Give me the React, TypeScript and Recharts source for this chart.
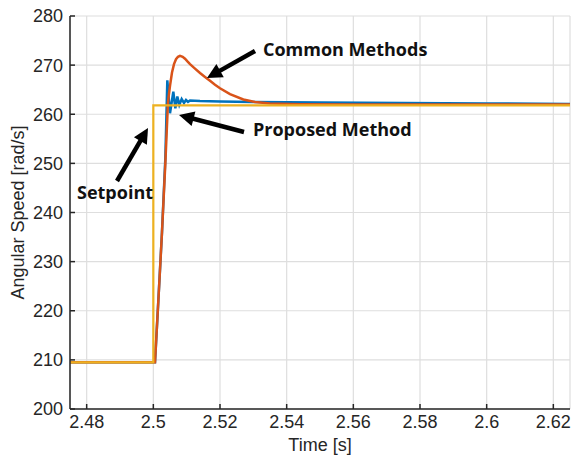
import { LineChart, Line, XAxis, YAxis, CartesianGrid } from 'recharts';

// time axis [s] and angular speed [rad/s]
const setpointTime = [2.475, 2.5, 2.5, 2.625];
const setpointSpeed = [209.5, 209.5, 261.8, 261.8];

const proposedTime = [
    2.475, 2.5005, 2.5015, 2.5026, 2.5036, 2.5042, 2.505, 2.506, 2.5066, 2.5072, 2.5078,
    2.5085, 2.5092, 2.5098, 2.5104, 2.511, 2.514, 2.52, 2.53, 2.55, 2.575, 2.6, 2.625,
];
const proposedSpeed = [
    209.5, 209.5, 222, 236, 251, 266.9, 260.2, 264.6, 261.2, 263.6, 261.9,
    263.1, 262.3, 262.9, 262.5, 262.8, 262.7, 262.6, 262.5, 262.4, 262.3, 262.2, 262.1,
];

const commonTime = [
    2.475, 2.5005, 2.5015, 2.5026, 2.5036, 2.5044, 2.505, 2.5056, 2.5062, 2.5068, 2.5074,
    2.508, 2.5088, 2.5095, 2.5103, 2.511, 2.5125, 2.514, 2.5155, 2.517, 2.5185, 2.52,
    2.523, 2.527, 2.5305, 2.535, 2.544, 2.56, 2.6, 2.625,
];
const commonSpeed = [
    209.5, 209.5, 222, 236, 250, 262.5, 265.8, 268.5, 270.2, 271.2, 271.7,
    271.9, 271.7, 271.3, 270.7, 270.2, 269.3, 268.4, 267.6, 266.8, 266.0, 265.3,
    264.1, 263.0, 262.5, 262.2, 262.05, 262.0, 262.0, 262.0,
];

const timeTicks = [2.48, 2.5, 2.52, 2.54, 2.56, 2.58, 2.6, 2.62];
const speedTicks = [200, 210, 220, 230, 240, 250, 260, 270, 280];

const toPoints = (t: number[], w: number[]) => t.map((time, i) => ({ time, speed: w[i] }));

const setpoint = toPoints(setpointTime, setpointSpeed);
const proposed = toPoints(proposedTime, proposedSpeed);
const common = toPoints(commonTime, commonSpeed);

const axisColor = '#262626';
const tickFont = { fontSize: 18, fill: axisColor, fontFamily: 'Liberation Sans, Arial, sans-serif' };
const noteFont = { fontSize: 18, fontWeight: 700, fontFamily: 'Open Sans, sans-serif', fill: '#111' };

function Arrow({ x1, y1, x2, y2 }: { x1: number; y1: number; x2: number; y2: number }) {
    const dx = x2 - x1;
    const dy = y2 - y1;
    const len = Math.hypot(dx, dy);
    const ux = dx / len;
    const uy = dy / len;
    const head = 15;
    const half = 7.5;
    const bx = x2 - ux * head;
    const by = y2 - uy * head;
    return (
        <g>
            <line x1={x1} y1={y1} x2={bx + ux * 2} y2={by + uy * 2} stroke="#000" strokeWidth={4.5} />
            <polygon
                points={`${x2},${y2} ${bx - uy * half},${by + ux * half} ${bx + uy * half},${by - ux * half}`}
                fill="#000"
            />
        </g>
    );
}

export default function App() {
    return (
        <div style={{ position: 'relative', width: 574, height: 461 }}>
            <style>{'body { margin: 0; }'}</style>
            <LineChart width={574} height={461} margin={{ top: 16, right: 4, left: 0, bottom: 0 }}>
                <CartesianGrid stroke="#dedede" strokeWidth={1.2} />
                <XAxis
                    type="number"
                    dataKey="time"
                    domain={[2.475, 2.625]}
                    ticks={timeTicks}
                    allowDataOverflow
                    height={52}
                    tickSize={-5}
                    tickMargin={11}
                    tick={tickFont}
                    stroke={axisColor}
                    strokeWidth={1.5}
                    label={{
                        value: 'Time [s]',
                        position: 'insideBottom',
                        offset: 10,
                        style: { ...tickFont },
                    }}
                />
                <XAxis
                    xAxisId="top"
                    orientation="top"
                    type="number"
                    dataKey="time"
                    domain={[2.475, 2.625]}
                    ticks={timeTicks}
                    allowDataOverflow
                    height={0}
                    tickSize={-5}
                    tick={false}
                    stroke={axisColor}
                    strokeWidth={1.5}
                />
                <YAxis
                    type="number"
                    domain={[200, 280]}
                    ticks={speedTicks}
                    allowDataOverflow
                    width={70}
                    tickSize={-5}
                    tickMargin={12}
                    tick={tickFont}
                    stroke={axisColor}
                    strokeWidth={1.5}
                    label={{
                        value: 'Angular Speed [rad/s]',
                        angle: -90,
                        position: 'insideLeft',
                        offset: 18,
                        style: { ...tickFont, textAnchor: 'middle' },
                    }}
                />
                <YAxis
                    yAxisId="right"
                    orientation="right"
                    type="number"
                    domain={[200, 280]}
                    ticks={speedTicks}
                    width={0}
                    tickSize={-5}
                    tick={false}
                    stroke={axisColor}
                    strokeWidth={1.5}
                />
                <Line
                    data={proposed}
                    dataKey="speed"
                    type="linear"
                    stroke="#0072BD"
                    strokeWidth={2.5}
                    dot={false}
                    isAnimationActive={false}
                />
                <Line
                    data={common}
                    dataKey="speed"
                    type="linear"
                    stroke="#D95319"
                    strokeWidth={2.5}
                    dot={false}
                    isAnimationActive={false}
                />
                <Line
                    data={setpoint}
                    dataKey="speed"
                    type="linear"
                    stroke="#EDB120"
                    strokeWidth={2.2}
                    dot={false}
                    isAnimationActive={false}
                />
            </LineChart>
            <svg
                width={574}
                height={461}
                style={{ position: 'absolute', left: 0, top: 0, pointerEvents: 'none' }}
            >
                <text x={263} y={56} {...noteFont}>Common Methods</text>
                <Arrow x1={255} y1={51} x2={207} y2={78} />
                <text x={253} y={136} {...noteFont}>Proposed Method</text>
                <Arrow x1={244} y1={132} x2={179} y2={115} />
                <text x={77} y={199} {...noteFont}>Setpoint</text>
                <Arrow x1={117} y1={181} x2={148} y2={128} />
            </svg>
        </div>
    );
}
